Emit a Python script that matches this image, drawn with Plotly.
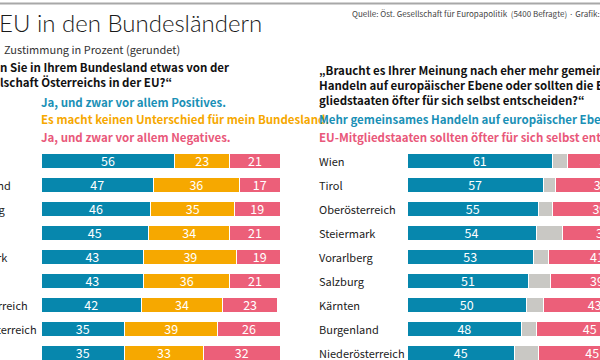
import plotly.graph_objects as go

# ---------------- data ----------------
left_states = ["Kärnten", "Burgenland", "Vorarlberg", "Tirol", "Steiermark",
               "Salzburg", "Oberösterreich", "Niederösterreich", "Wien"]
left_pos = [56, 47, 46, 45, 43, 43, 42, 35, 35]
left_same = [23, 36, 35, 34, 39, 36, 34, 39, 33]
left_neg = [21, 17, 19, 21, 19, 21, 23, 26, 32]

right_states = ["Wien", "Tirol", "Oberösterreich", "Steiermark", "Vorarlberg",
                "Salzburg", "Kärnten", "Burgenland", "Niederösterreich"]
right_eu = [61, 57, 55, 54, 53, 51, 50, 48, 45]
right_undecided = [6, 5, 6, 11, 6, 9, 7, 6, 10]
right_self = [33, 38, 39, 34, 41, 39, 43, 45, 45]

title = "EU in den Bundesländern"
subtitle = "Zustimmung in Prozent (gerundet)"
source = "Quelle: Öst. Gesellschaft für Europapolitik  (5400 Befragte) · Grafik: „Die Presse“"
left_q = ["n Sie in Ihrem Bundesland etwas von der", "lschaft Österreichs in der EU?“"]
right_q = ["„Braucht es Ihrer Meinung nach eher mehr gemeinsames",
           "Handeln auf europäischer Ebene oder sollten die EU-Mit-",
           "gliedstaaten öfter für sich selbst entscheiden?“"]
left_legend = ["Ja, und zwar vor allem Positives.",
               "Es macht keinen Unterschied für mein Bundesland.",
               "Ja, und zwar vor allem Negatives."]
right_legend = ["Mehr gemeinsames Handeln auf europäischer Ebene.",
                "EU-Mitgliedstaaten sollten öfter für sich selbst entscheiden."]

# ---------------- style ----------------
W, H = 600, 360
BLUE = "#0787ad"
ORANGE = "#f6a800"
PINK = "#ec5f79"
GREY = "#c9c8c4"
BLUE_T = "#1a90b6"
PINK_T = "#e9587a"
COND = "Noto Sans CJK KR, Noto Sans, sans-serif"
TITLE_FONT = "Lato, Roboto, sans-serif"

fig = go.Figure()
idx = list(range(len(left_states)))


def bars(vals, color, xa, ya, show_text=True):
    fig.add_trace(go.Bar(
        x=vals, y=idx, orientation="h", xaxis=xa, yaxis=ya,
        marker=dict(color=color, line=dict(color="white", width=1)),
        width=0.625,
        text=vals if show_text else None,
        texttemplate="%{x}" if show_text else None,
        textposition="inside" if show_text else "none",
        insidetextanchor="middle", constraintext="none", textangle=0,
        textfont=dict(family=COND, size=12.5, color="white"),
        hoverinfo="skip", showlegend=False,
    ))


bars(left_pos, BLUE, "x", "y")
bars(left_same, ORANGE, "x", "y")
bars(left_neg, PINK, "x", "y")
bars(right_eu, BLUE, "x2", "y2")
bars(right_undecided, GREY, "x2", "y2", show_text=False)
bars(right_self, PINK, "x2", "y2")

yr = [8 + 7.5 / 24, -160.5 / 24]
fig.update_layout(
    width=W, height=H, margin=dict(l=0, r=0, t=0, b=0),
    paper_bgcolor="white", plot_bgcolor="white", barmode="stack",
    xaxis=dict(domain=[41 / W, 280 / W], range=[0, 100], visible=False, fixedrange=True),
    xaxis2=dict(domain=[407 / W, 1], range=[0, (W - 407) / 2.39], visible=False,
                anchor="y2", fixedrange=True),
    yaxis=dict(range=yr, visible=False, fixedrange=True),
    yaxis2=dict(range=yr, visible=False, anchor="x2", fixedrange=True),
)

anns = []


def ann(text, px, py, size, color, weight=400, family=COND, xanchor="left", yref="paper", yv=None):
    anns.append(dict(
        text=text, x=px / W, xref="paper",
        y=(1 - py / H) if yv is None else yv, yref=yref,
        xanchor=xanchor, yanchor="middle", showarrow=False, align="left",
        font=dict(family=family, size=size, color=color, weight=weight),
        borderpad=0,
    ))


ann(title, -2, 22, 24, "#1a1a1a", weight=300, family=TITLE_FONT)
ann(subtitle, 3, 49, 11, "#333333")
ann(source, 351, 14, 8, "#444444")
ann("<br>".join(left_q), -1, 74.5, 11.5, "#111111", weight=700)
ann("<br>".join(right_q), 318, 84.5, 11.5, "#111111", weight=700)
for i, (line, c) in enumerate(zip(left_legend, [BLUE_T, ORANGE, PINK_T])):
    ann(line, 40, 102 + i * 17.5, 11.5, c, weight=700)
for i, (line, c) in enumerate(zip(right_legend, [BLUE_T, PINK_T])):
    ann(line, 318, 119.5 + i * 17.5, 11.5, c, weight=700)
for i, name in enumerate(left_states):
    ann(name, -50, 0, 11, "#222222", yref="y", yv=i)
for i, name in enumerate(right_states):
    ann(name, 318, 0, 11, "#222222", yref="y2", yv=i)

# top rule
fig.add_shape(type="line", xref="paper", yref="paper", x0=0, x1=1,
              y0=1 - 3.5 / H, y1=1 - 3.5 / H, line=dict(color="#a8a8a8", width=2))

fig.update_layout(annotations=anns)
fig.write_html("out.html", config={"displayModeBar": False},
               post_script="document.body.style.margin='0';")
